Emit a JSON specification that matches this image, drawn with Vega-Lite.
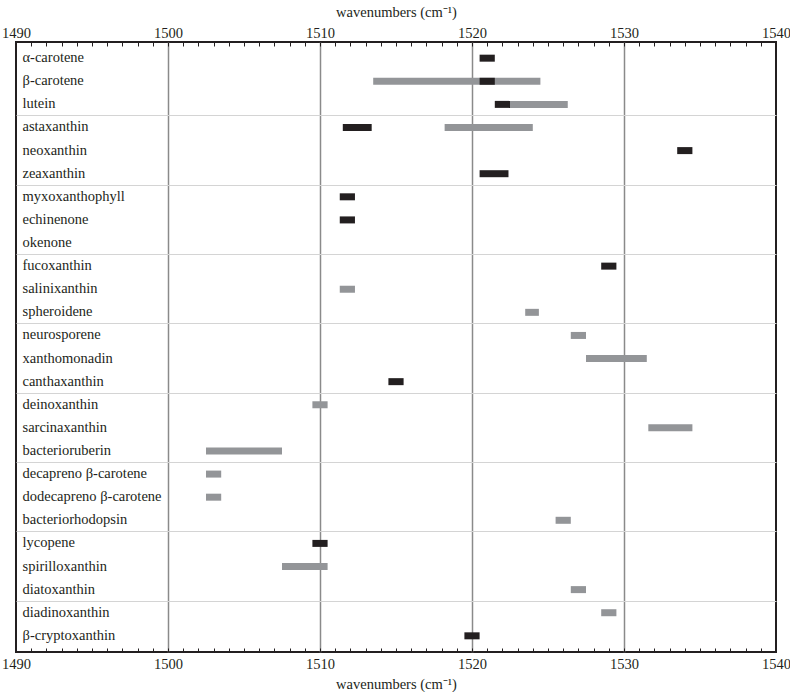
{
  "$schema": "https://vega.github.io/schema/vega-lite/v6.json",
  "autosize": "none",
  "padding": {"left": 16, "top": 42, "right": 14, "bottom": 40},
  "width": 760,
  "height": 610,
  "background": "white",
  "config": {
    "view": {"stroke": "#231f20", "strokeWidth": 2},
    "font": "Liberation Serif",
    "axis": {
      "labelFont": "Liberation Serif",
      "titleFont": "Liberation Serif",
      "labelColor": "#231f20",
      "titleColor": "#231f20",
      "labelFontSize": 14.5,
      "titleFontSize": 14.5,
      "titleFontWeight": "normal",
      "domain": false
    }
  },
  "data": {
    "values": [
      {"pigment": "β-carotene", "start": 1513.5, "end": 1524.5, "series": "secondary"},
      {"pigment": "lutein", "start": 1522.5, "end": 1526.3, "series": "secondary"},
      {"pigment": "astaxanthin", "start": 1518.2, "end": 1524.0, "series": "secondary"},
      {"pigment": "salinixanthin", "start": 1511.3, "end": 1512.3, "series": "secondary"},
      {"pigment": "spheroidene", "start": 1523.5, "end": 1524.4, "series": "secondary"},
      {"pigment": "neurosporene", "start": 1526.5, "end": 1527.5, "series": "secondary"},
      {"pigment": "xanthomonadin", "start": 1527.5, "end": 1531.5, "series": "secondary"},
      {"pigment": "deinoxanthin", "start": 1509.5, "end": 1510.5, "series": "secondary"},
      {"pigment": "sarcinaxanthin", "start": 1531.6, "end": 1534.5, "series": "secondary"},
      {"pigment": "bacterioruberin", "start": 1502.5, "end": 1507.5, "series": "secondary"},
      {"pigment": "decapreno β-carotene", "start": 1502.5, "end": 1503.5, "series": "secondary"},
      {"pigment": "dodecapreno β-carotene", "start": 1502.5, "end": 1503.5, "series": "secondary"},
      {"pigment": "bacteriorhodopsin", "start": 1525.5, "end": 1526.5, "series": "secondary"},
      {"pigment": "spirilloxanthin", "start": 1507.5, "end": 1510.5, "series": "secondary"},
      {"pigment": "diatoxanthin", "start": 1526.5, "end": 1527.5, "series": "secondary"},
      {"pigment": "diadinoxanthin", "start": 1528.5, "end": 1529.5, "series": "secondary"},
      {"pigment": "α-carotene", "start": 1520.5, "end": 1521.5, "series": "primary"},
      {"pigment": "β-carotene", "start": 1520.5, "end": 1521.5, "series": "primary"},
      {"pigment": "lutein", "start": 1521.5, "end": 1522.5, "series": "primary"},
      {"pigment": "astaxanthin", "start": 1511.5, "end": 1513.4, "series": "primary"},
      {"pigment": "neoxanthin", "start": 1533.5, "end": 1534.5, "series": "primary"},
      {"pigment": "zeaxanthin", "start": 1520.5, "end": 1522.4, "series": "primary"},
      {"pigment": "myxoxanthophyll", "start": 1511.3, "end": 1512.3, "series": "primary"},
      {"pigment": "echinenone", "start": 1511.3, "end": 1512.3, "series": "primary"},
      {"pigment": "fucoxanthin", "start": 1528.5, "end": 1529.5, "series": "primary"},
      {"pigment": "canthaxanthin", "start": 1514.5, "end": 1515.5, "series": "primary"},
      {"pigment": "lycopene", "start": 1509.5, "end": 1510.5, "series": "primary"},
      {"pigment": "β-cryptoxanthin", "start": 1519.5, "end": 1520.5, "series": "primary"}
    ]
  },
  "resolve": {"axis": {"x": "independent"}},
  "encoding": {
    "y": {
      "field": "pigment", "type": "nominal",
      "scale": {
        "domain": ["α-carotene","β-carotene","lutein","astaxanthin","neoxanthin","zeaxanthin","myxoxanthophyll","echinenone","okenone","fucoxanthin","salinixanthin","spheroidene","neurosporene","xanthomonadin","canthaxanthin","deinoxanthin","sarcinaxanthin","bacterioruberin","decapreno β-carotene","dodecapreno β-carotene","bacteriorhodopsin","lycopene","spirilloxanthin","diatoxanthin","diadinoxanthin","β-cryptoxanthin"],
        "paddingInner": 0, "paddingOuter": 0.2
      },
      "axis": {
        "orient": "left",
        "title": null,
        "ticks": false,
        "tickSize": 0,
        "labelAlign": "left",
        "labelPadding": -6,
        "labelOverlap": false,
        "labelBound": false,
        "grid": true,
        "bandPosition": 0,
        "gridColor": "#d4d4d4",
        "gridWidth": 1,
        "gridOpacity": {"condition": {"test": "indexof(['astaxanthin','myxoxanthophyll','fucoxanthin','neurosporene','deinoxanthin','decapreno β-carotene','lycopene','diadinoxanthin'], datum.value) >= 0", "value": 1}, "value": 0}
      }
    }
  },
  "layer": [
    {
      "transform": [{"filter": "datum.series === 'secondary'"}],
      "mark": {"type": "bar", "height": 7, "color": "#939598"},
      "encoding": {
        "x": {
          "field": "start", "type": "quantitative",
          "scale": {"domain": [1490, 1540], "nice": false, "zero": false},
          "axis": {
            "orient": "bottom",
            "title": "wavenumbers (cm⁻¹)",
            "format": "d",
            "values": [1490,1491,1492,1493,1494,1495,1496,1497,1498,1499,1500,1501,1502,1503,1504,1505,1506,1507,1508,1509,1510,1511,1512,1513,1514,1515,1516,1517,1518,1519,1520,1521,1522,1523,1524,1525,1526,1527,1528,1529,1530,1531,1532,1533,1534,1535,1536,1537,1538,1539,1540],
            "labelExpr": "datum.value % 10 === 0 ? datum.label : ''",
            "labelFlush": false,
            "labelOverlap": false,
            "tickSize": -4,
            "tickColor": "#231f20",
            "tickWidth": 1,
            "labelPadding": 9,
            "titlePadding": 7,
            "grid": true,
            "gridColor": "#8a8a8a",
            "gridWidth": 1.5,
            "gridOpacity": {"condition": {"test": "datum.value % 10 === 0 && datum.value > 1490 && datum.value < 1540", "value": 1}, "value": 0}
          }
        },
        "x2": {"field": "end"}
      }
    },
    {
      "transform": [{"filter": "datum.series === 'primary'"}],
      "mark": {"type": "bar", "height": 7, "color": "#231f20"},
      "encoding": {
        "x": {
          "field": "start", "type": "quantitative",
          "axis": {
            "orient": "top",
            "title": "wavenumbers (cm⁻¹)",
            "format": "d",
            "values": [1490,1491,1492,1493,1494,1495,1496,1497,1498,1499,1500,1501,1502,1503,1504,1505,1506,1507,1508,1509,1510,1511,1512,1513,1514,1515,1516,1517,1518,1519,1520,1521,1522,1523,1524,1525,1526,1527,1528,1529,1530,1531,1532,1533,1534,1535,1536,1537,1538,1539,1540],
            "labelExpr": "datum.value % 10 === 0 ? datum.label : ''",
            "labelFlush": false,
            "labelOverlap": false,
            "tickSize": -4,
            "tickColor": "#231f20",
            "tickWidth": 1,
            "labelPadding": 6,
            "titlePadding": 6,
            "grid": false
          }
        },
        "x2": {"field": "end"}
      }
    }
  ]
}
